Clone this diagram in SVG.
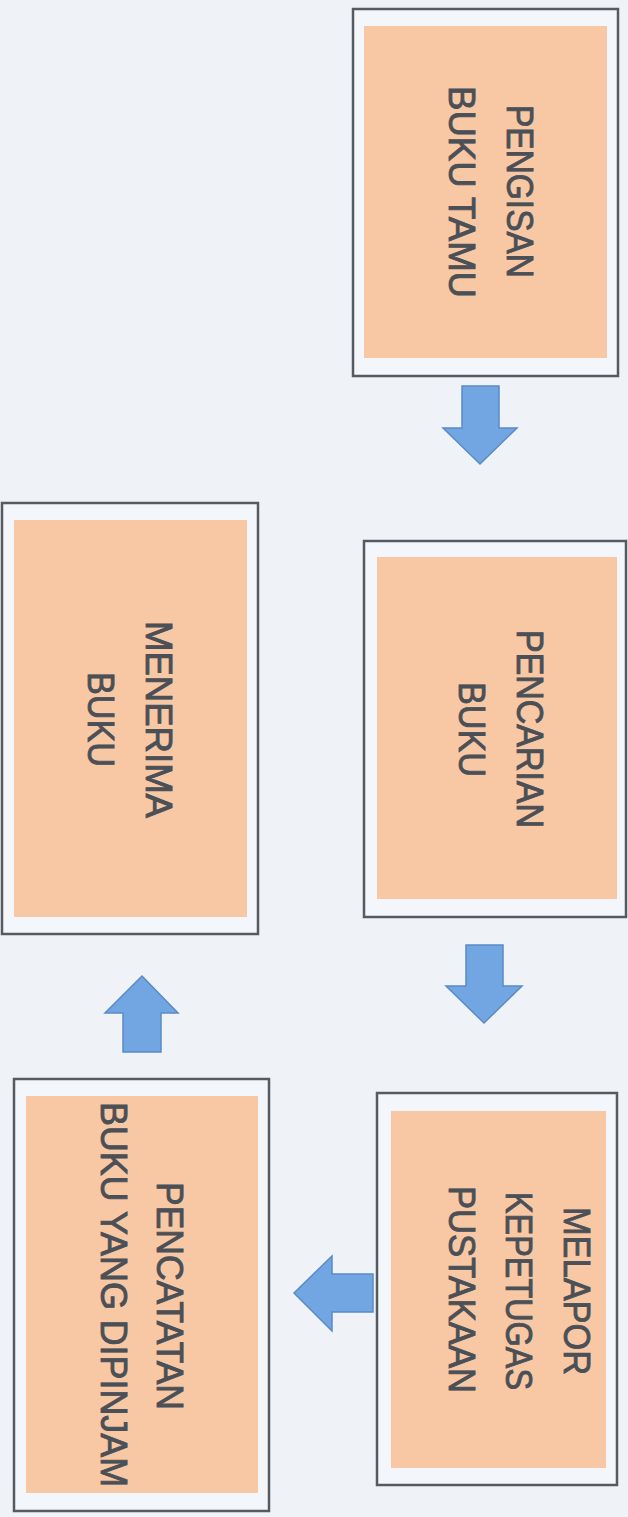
<svg xmlns="http://www.w3.org/2000/svg" width="628" height="1517" viewBox="0 0 628 1517">
<style>
.frame{fill:#f3f6fa;stroke:#565b62;stroke-width:2.5}
.fill{fill:#f8c8a5}
.lbl{font-family:"Liberation Sans",Arial,sans-serif;font-size:37px;fill:#4b4f56;stroke:#4b4f56;stroke-width:0.9;text-anchor:middle}
.arr{fill:#72a6e2;stroke:#5a8ac6;stroke-width:1.5;stroke-linejoin:miter}
</style>
<rect x="0" y="0" width="628" height="1517" fill="#eff3f8"/>
<g id="node-pengisan">
<rect class="frame" x="353" y="9" width="265" height="367"/>
<rect class="fill" x="364" y="26" width="243" height="332"/>
<text class="lbl" transform="translate(506.5,191.5) rotate(90)" textLength="173" lengthAdjust="spacingAndGlyphs">PENGISAN</text>
<text class="lbl" transform="translate(448.5,192) rotate(90)" textLength="212" lengthAdjust="spacingAndGlyphs">BUKU TAMU</text>
</g>
<g id="node-pencarian">
<rect class="frame" x="364" y="541" width="262" height="376"/>
<rect class="fill" x="377" y="557" width="240" height="342"/>
<text class="lbl" transform="translate(516.5,729) rotate(90)" textLength="198" lengthAdjust="spacingAndGlyphs">PENCARIAN</text>
<text class="lbl" transform="translate(458.5,729.5) rotate(90)" textLength="95" lengthAdjust="spacingAndGlyphs">BUKU</text>
</g>
<g id="node-melapor">
<rect class="frame" x="377" y="1093" width="240" height="392"/>
<rect class="fill" x="391" y="1111" width="215" height="357"/>
<text class="lbl" transform="translate(563.5,1291) rotate(90)" textLength="168" lengthAdjust="spacingAndGlyphs">MELAPOR</text>
<text class="lbl" transform="translate(505.5,1291) rotate(90)" textLength="198" lengthAdjust="spacingAndGlyphs">KEPETUGAS</text>
<text class="lbl" transform="translate(448.5,1289.5) rotate(90)" textLength="207" lengthAdjust="spacingAndGlyphs">PUSTAKAAN</text>
</g>
<g id="node-pencatatan">
<rect class="frame" x="14" y="1079" width="255" height="432"/>
<rect class="fill" x="26" y="1096" width="232" height="397"/>
<text class="lbl" transform="translate(156.5,1296) rotate(90)" textLength="228" lengthAdjust="spacingAndGlyphs">PENCATATAN</text>
<text class="lbl" transform="translate(100.5,1294.5) rotate(90)" textLength="385" lengthAdjust="spacingAndGlyphs">BUKU YANG DIPINJAM</text>
</g>
<g id="node-menerima">
<rect class="frame" x="2" y="503" width="256" height="431"/>
<rect class="fill" x="14" y="520" width="233" height="397"/>
<text class="lbl" transform="translate(145.5,719.5) rotate(90)" textLength="197" lengthAdjust="spacingAndGlyphs">MENERIMA</text>
<text class="lbl" transform="translate(88,719.5) rotate(90)" textLength="95" lengthAdjust="spacingAndGlyphs">BUKU</text>
</g>
<g id="connectors">
<polygon class="arr" points="462,386 499,386 499,428 517,428 480,464 443,428 462,428"/>
<polygon class="arr" points="466,945 503,945 503,986 522,986 484,1023 446,986 466,986"/>
<polygon class="arr" points="373,1274 373,1312 332,1312 332,1331 294,1293 332,1256 332,1274"/>
<polygon class="arr" points="123,1052 161,1052 161,1013 178,1013 142,976 105,1013 123,1013"/>
</g>
</svg>
